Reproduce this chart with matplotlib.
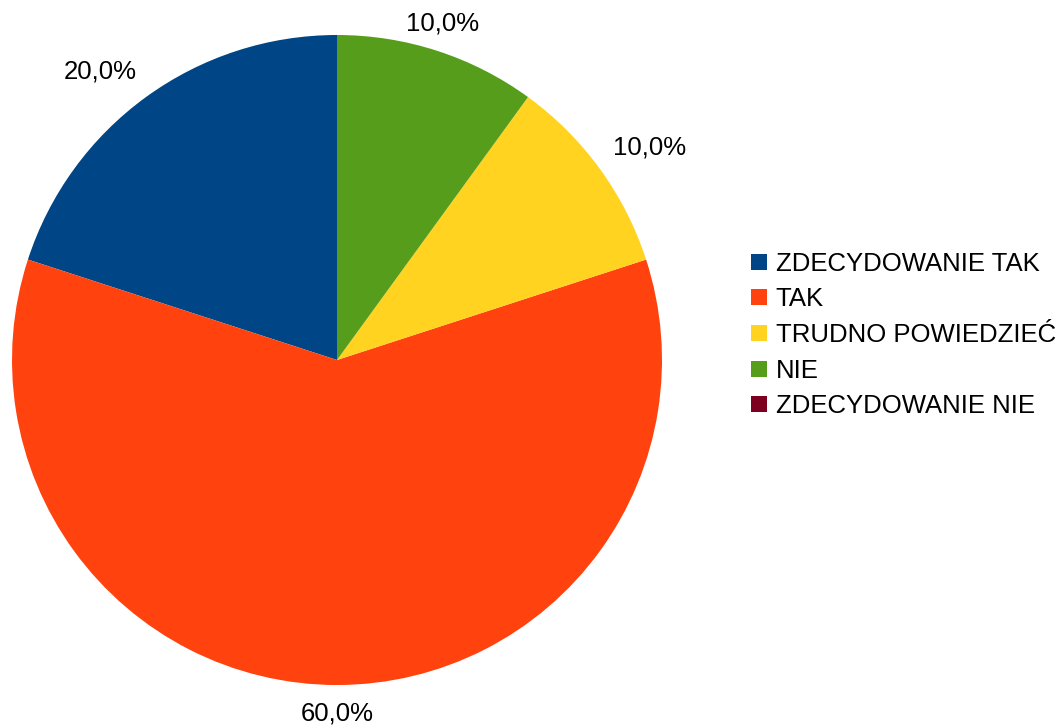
import matplotlib
matplotlib.use("Agg")
import numpy as np
import matplotlib.pyplot as plt
from matplotlib.lines import Line2D

plt.rcParams['font.family'] = ['Liberation Sans', 'DejaVu Sans']

labels = ['ZDECYDOWANIE TAK', 'TAK', 'TRUDNO POWIEDZIEĆ', 'NIE', 'ZDECYDOWANIE NIE']
values = [20.0, 60.0, 10.0, 10.0, 0.0]
colors = ['#004586', '#ff420e', '#ffd320', '#579d1c', '#7e0021']


def pct_label(p):
    # no label for empty slices
    if p < 0.05:
        return ''
    return ('%.1f' % p).replace('.', ',') + '%'


fig = plt.figure(figsize=(10.57, 7.26), dpi=100)
# pie area: centre at (337, 360) px, radius 325 px
ax = fig.add_axes([12 / 1057, 41 / 726, 650 / 1057, 650 / 726])
wedges, texts, autotexts = ax.pie(values, colors=colors, startangle=90,
                                  counterclock=True, radius=1.0,
                                  autopct=pct_label, pctdistance=1.05,
                                  wedgeprops=dict(linewidth=0))

# anchor each percentage just outside the rim, aligned away from the pie
for w, t in zip(wedges, autotexts):
    ang = np.deg2rad((w.theta1 + w.theta2) / 2)
    c, s = np.cos(ang), np.sin(ang)
    t.set_position((1.05 * c, 1.05 * s))
    t.set_ha('left' if c > 0.5 else ('right' if c < -0.5 else 'center'))
    t.set_va('bottom' if s > 0.3 else ('top' if s < -0.3 else 'center'))
    t.set_fontsize(18.5)
    t.set_color('black')
    t.set_clip_on(False)

ax.set_xlim(-1, 1)
ax.set_ylim(-1, 1)
ax.set_aspect('equal')
ax.axis('off')

handles = [Line2D([], [], marker='s', linestyle='none', markersize=11,
                  markerfacecolor=c, markeredgewidth=0) for c in colors]
fig.legend(handles, labels, loc='center left',
           bbox_to_anchor=(737 / 1057, 1 - 335 / 726), frameon=False,
           fontsize=18.5, handlelength=0.7, handletextpad=0.3,
           labelspacing=0.45, borderpad=0)

fig.savefig('out.png', dpi=100)
